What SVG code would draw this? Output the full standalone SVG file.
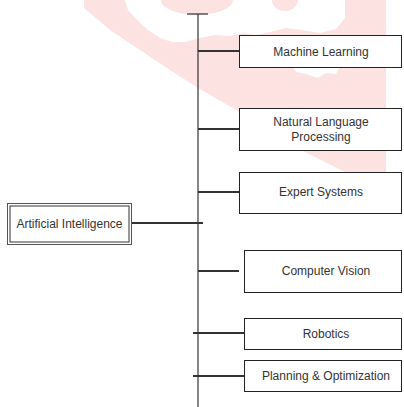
<svg xmlns="http://www.w3.org/2000/svg" width="404" height="407" viewBox="0 0 404 407">
<style>
.wm{fill:#fde2e2;stroke:none}
.hole{fill:#ffffff;stroke:none}
.box{fill:#ffffff;stroke:#222;stroke-width:1}
.spine{stroke:#333;stroke-width:1.2;fill:none}
.conn{stroke:#333;stroke-width:2.2;fill:none}
.lbl{font-family:"Liberation Sans",Arial,sans-serif;font-size:12px;fill:#333;text-anchor:middle}
</style>
<rect width="404" height="407" fill="#ffffff"/>
<g id="watermark">
<path class="wm" d="M84,0 L386,0 L386,195 L345,172 L303,151 L233,108 L198,88 L170,70 L140,50 L110,30 L84,8 Z"/>
<path class="hole" d="M125,0 L345,0 L345,18 L336,29 L320,33 L302,30 L286,28 L270,32 L256,35 L243,33 L230,36 L215,35 L200,38 L185,42 L172,42 L160,38 L148,30 L137,20 L128,10 Z"/>
<ellipse class="wm" cx="197" cy="0" rx="36" ry="15"/>
<ellipse class="wm" cx="285" cy="0" rx="13" ry="11"/>
<path class="hole" d="M293,67 L340,67 L336,74 L326,73 L318,78 L306,74 L296,72 Z"/>
</g>
<g id="connectors">
<line class="spine" x1="198" y1="14" x2="198" y2="407"/>
<line class="spine" x1="187" y1="14" x2="208" y2="14"/>
<line class="conn" x1="198" y1="51" x2="239" y2="51"/>
<line class="conn" x1="198" y1="129" x2="239" y2="129"/>
<line class="conn" x1="198" y1="192" x2="239" y2="192"/>
<line class="conn" x1="132" y1="223" x2="203" y2="223"/>
<line class="conn" x1="198" y1="271" x2="239" y2="271"/>
<line class="conn" x1="193" y1="333" x2="244" y2="333"/>
<line class="conn" x1="193" y1="376" x2="244" y2="376"/>
</g>
<g id="ai">
<rect x="7.5" y="203.5" width="124" height="41" fill="#fff" stroke="#555" stroke-width="1"/>
<rect x="10" y="206" width="119" height="36" fill="none" stroke="#333" stroke-width="1"/>
<text class="lbl" x="69.5" y="228">Artificial Intelligence</text>
</g>
<g id="ml">
<rect class="box" x="239.5" y="35.5" width="162" height="32"/>
<text class="lbl" x="321" y="55.5">Machine Learning</text>
</g>
<g id="nlp">
<rect class="box" x="239.5" y="108.5" width="162" height="42"/>
<text class="lbl" x="321" y="126">Natural Language</text>
<text class="lbl" x="321" y="141">Processing</text>
</g>
<g id="expert">
<rect class="box" x="239.5" y="172.5" width="162" height="41"/>
<text class="lbl" x="321" y="196">Expert Systems</text>
</g>
<g id="cv">
<rect class="box" x="244.5" y="250.5" width="157" height="42"/>
<text class="lbl" x="326" y="275">Computer Vision</text>
</g>
<g id="robotics">
<rect class="box" x="244.5" y="318.5" width="157" height="31"/>
<text class="lbl" x="326" y="337.5">Robotics</text>
</g>
<g id="planning">
<rect class="box" x="244.5" y="360.5" width="157" height="31"/>
<text class="lbl" x="326" y="380">Planning &amp; Optimization</text>
</g>
</svg>
